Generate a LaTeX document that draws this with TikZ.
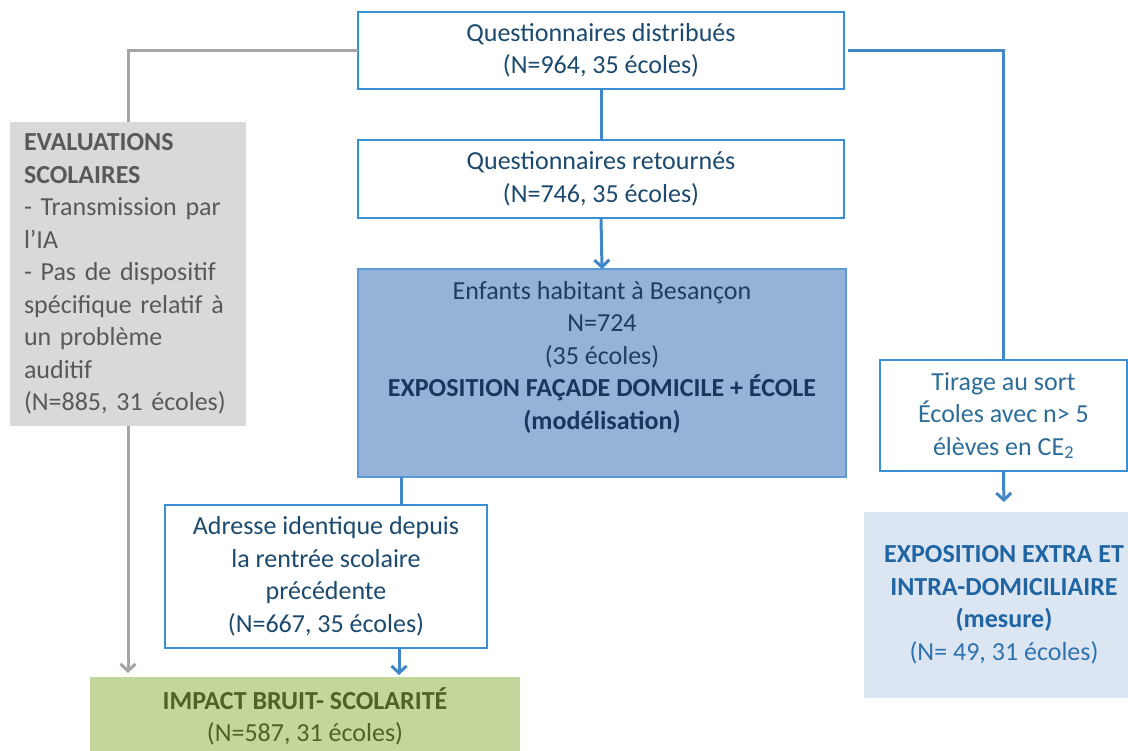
\documentclass[tikz,border=0pt]{standalone}
\usepackage{fontspec}
\setmainfont{Carlito}
\usetikzlibrary{arrows.meta,calc}
\definecolor{boxblue}{HTML}{3B8FD4}
\definecolor{lineblue}{HTML}{3F87C8}
\definecolor{linegrey}{HTML}{A6A6A6}
\definecolor{txtblue}{HTML}{1B4A6E}
\definecolor{greyfill}{HTML}{D9D9D9}
\definecolor{greytxt}{HTML}{595959}
\definecolor{bluefill}{HTML}{95B3D7}
\definecolor{blueborder}{HTML}{5B9BD5}
\definecolor{enftxt}{HTML}{1F3D5C}
\definecolor{enfbold}{HTML}{17375E}
\definecolor{tirtxt}{HTML}{2D6D99}
\definecolor{lbfill}{HTML}{DCE6F2}
\definecolor{lbbold}{HTML}{1F64A3}
\definecolor{lbtxt}{HTML}{2E72B0}
\definecolor{greenfill}{HTML}{C3D69B}
\definecolor{greentxt}{HTML}{4F6228}
\begin{document}
\begin{tikzpicture}[x=1pt,y=-1pt,
  every node/.style={inner sep=0pt, outer sep=0pt, font=\fontsize{26}{32.5}\selectfont},
  wbox/.style={draw=boxblue, line width=2.5pt, fill=white, align=center, anchor=north west},
  fbox/.style={anchor=north west, align=center},
  conn/.style={draw=lineblue, line width=3pt},
  gconn/.style={draw=linegrey, line width=3pt},
  arr/.style={-{Straight Barb[length=7pt,width=15pt]}}
]
\useasboundingbox (0,0) rectangle (1128,751);

\node[wbox, minimum width=486pt, minimum height=77pt, text=txtblue] (q1) at (358,12)
  {Questionnaires distribués\\(N=964, 35 écoles)};
\node[wbox, minimum width=486pt, minimum height=78pt, text=txtblue] (q2) at (358,140)
  {Questionnaires retournés\\(N=746, 35 écoles)};

\node[anchor=north west, fill=greyfill, minimum width=236pt, minimum height=304pt,
      text width=208pt, align=left, text=greytxt] (eval) at (10,122)
  {\textbf{EVALUATIONS}\\\textbf{SCOLAIRES}\\- Transmission par\\l’IA\\- Pas de dispositif\\spécifique relatif à\\un problème\\auditif\\(N=885, 31 écoles)};

\node[anchor=north west, fill=bluefill, draw=blueborder, line width=1.5pt,
      minimum width=488pt, minimum height=208pt] (enf) at (358,269) {};
\node[align=center, text=enftxt] (enft) at ([yshift=16pt]enf.center)
  {Enfants habitant à Besançon\\N=724\\(35 écoles)\\\textcolor{enfbold}{\textbf{EXPOSITION FAÇADE DOMICILE + ÉCOLE}}\\\textcolor{enfbold}{\textbf{(modélisation)}}};

\node[wbox, minimum width=247pt, minimum height=111pt, text=tirtxt] (tir) at (880,360)
  {Tirage au sort\\Écoles avec n> 5\\élèves en CE\textsubscript{2}};

\node[fbox, fill=lbfill, minimum width=280pt, minimum height=186pt, text=lbtxt] (mes) at (864,512)
  {\textcolor{lbbold}{\textbf{EXPOSITION EXTRA ET}}\\\textcolor{lbbold}{\textbf{INTRA-DOMICILIAIRE}}\\\textcolor{lbbold}{\textbf{(mesure)}}\\(N= 49, 31 écoles)};

\node[wbox, minimum width=322pt, minimum height=143pt, text=txtblue] (adr) at (165,505)
  {Adresse identique depuis\\la rentrée scolaire\\précédente\\(N=667, 35 écoles)};

\node[fbox, fill=greenfill, minimum width=430pt, minimum height=79pt, text=greentxt] (imp) at (90,677)
  {\textbf{IMPACT BRUIT- SCOLARITÉ}\\(N=587, 31 écoles)};

\coordinate (c1) at (401,0);
\coordinate (c2) at (399,0);

\draw[conn] (q1.south) -- (q2.north);
\draw[conn, arr] (q2.south) -- (enf.north);
\draw[gconn] (q1.west) -| (eval.north);
\draw[gconn, arr, shorten >=4pt] (eval.south) -- (eval.south |- imp.north);
\draw[conn] ([xshift=4pt]q1.east) -| (tir.north);
\draw[conn, arr, shorten >=10pt] (tir.south) -- (mes.north);
\draw[conn] (enf.south -| c1) -- (adr.north -| c1);
\draw[conn, arr, shorten >=2pt] (adr.south -| c2) -- (imp.north -| c2);
\end{tikzpicture}
\end{document}
